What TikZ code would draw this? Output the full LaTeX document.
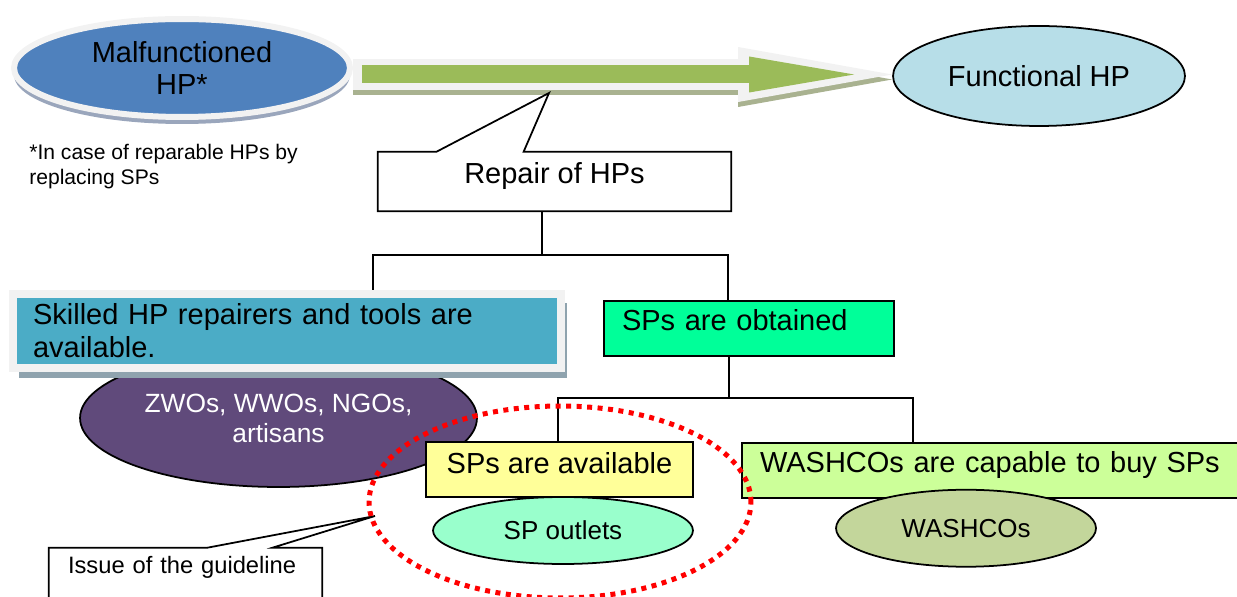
\documentclass[tikz,border=0pt]{standalone}
\usepackage{fontspec}
\setmainfont{Liberation Sans}
\usepackage{tikz}
\usetikzlibrary{
        arrows.meta,
        positioning,
        shadows,
        shapes.geometric
    }
\definecolor{hpblue}{HTML}{4F81BD}
\definecolor{hpgreen}{HTML}{9BBB59}
\definecolor{hpedge}{HTML}{F2F2F2}
\definecolor{hpshade}{HTML}{A9B290}
\definecolor{hpmist}{HTML}{9AA6BC}
\definecolor{hpsteel}{HTML}{8FA3AE}
\definecolor{hplight}{HTML}{B7DEE8}
\definecolor{hpteal}{HTML}{4BACC6}
\definecolor{hppurple}{HTML}{604A7B}
\definecolor{hpmint}{HTML}{00FF99}
\definecolor{hpyellow}{HTML}{FFFF99}
\definecolor{hpoutlet}{HTML}{99FFCC}
\definecolor{hplime}{HTML}{CCFF99}
\definecolor{hpolive}{HTML}{C3D69B}
\tikzset{
    big/.style={font=\fontsize{16.5}{18.7}\selectfont},
    mid/.style={font=\fontsize{14.8}{17}\selectfont},
    plainbox/.style={rectangle,draw,line width=1pt,inner sep=0pt,big},
    ellnode/.style={ellipse,draw,line width=1pt,inner sep=0pt,mid},
    callline/.style={line width=1pt},
    tree/.style={line width=0.9pt},
    arrshade/.style={draw=hpshade,line width=0.62cm,
        -{Triangle[length=3.08cm,width=1.1cm,line width=0pt]}},
    arrback/.style={draw=hpedge,line width=0.62cm,
        -{Triangle[length=3.08cm,width=1.1cm,line width=0pt]}},
    arrfront/.style={draw=hpgreen,line width=0.36cm,shorten >=0.76cm,shorten <=0.18cm,
        -{Triangle[length=2.1cm,width=0.72cm,line width=0pt]}}
}

\begin{document}
\begin{tikzpicture}[x=0.02cm,y=-0.02cm]
    \useasboundingbox (0,0) rectangle (1237,597);
    \clip (0,0) rectangle (1237,597);
    % top row
    \node[ellipse,fill=hpblue,draw=hpedge,line width=0.12cm,minimum width=6.72cm,minimum height=1.96cm,
          inner sep=0pt,align=center,big,
          drop shadow={shadow xshift=0cm,shadow yshift=-0.14cm,fill=hpmist,opacity=1}] (mal) at (182,68) {Malfunctioned\\HP*};
    \node[ellnode,fill=hplight,minimum width=5.84cm,minimum height=2cm,big] (fun) at (1039,76) {Functional HP};
    \coordinate (arrstart) at (mal.east |- 0,74.5);
    \coordinate (arrend) at (fun.west |- 0,74.5);
    \draw[arrshade] ([yshift=-0.1cm]arrstart) -- ([yshift=-0.1cm]arrend);
    \draw[arrback] (arrstart) -- (arrend);
    \draw[arrfront] (arrstart) -- (arrend);
    \node[align=left,inner sep=0pt,anchor=west,font=\fontsize{12}{14.2}\selectfont] (note) at (29,167)
        {*In case of reparable HPs by\\replacing SPs};

    % callout on the arrow
    \node[inner sep=0pt,minimum width=7.06cm,text height=0.63cm,text depth=0.55cm,big] (repair) at (554.5,181.5) {Repair of HPs};
    \coordinate (reptip) at (549,93);
    \draw[callline] (repair.south west) -- (repair.north west) -- ([xshift=1.18cm]repair.north west) -- (reptip)
        -- ([xshift=2.92cm]repair.north west) -- (repair.north east) -- (repair.south east) -- cycle;

    % left branch
    \node[ellnode,fill=hppurple,text=white,minimum width=7.94cm,minimum height=2.76cm,align=center,
          font=\fontsize{15}{17}\selectfont] (zwo) at (278.5,418) {ZWOs, WWOs, NGOs,\\artisans};
    \node[rectangle,fill=hpteal,draw=hpedge,line width=0.16cm,minimum width=10.97cm,minimum height=1.5cm,
          inner xsep=0.41cm,inner ysep=0pt,text width=10.15cm,align=left,big,
          drop shadow={shadow xshift=0.12cm,shadow yshift=-0.19cm,fill=hpsteel,opacity=1}] (skill) at (286.75,331)
        {Skilled HP repairers and tools are\\available.};

    % right branch
    \node[plainbox,fill=hpmint,minimum width=5.8cm,inner xsep=0.36cm,text width=5.08cm,align=left,
          text height=0.59cm,text depth=0.51cm] (obtained) at (749,328.5) {SPs are obtained};
    \node[ellnode,fill=hpoutlet,minimum width=5.2cm,minimum height=1.34cm] (outlets) at (563,530.5) {SP outlets};
    \node[plainbox,fill=hpyellow,minimum width=5.34cm,text height=0.63cm,text depth=0.47cm]
        (available) [above=-0.04cm of outlets,xshift=-0.07cm] {SPs are available};
    \node[plainbox,fill=hplime,minimum width=10.52cm,inner xsep=0.36cm,text width=9.8cm,align=left,
          text height=0.59cm,text depth=0.51cm] (washbox) at (1005,470.5)
        {WASHCOs are capable to buy SPs};
    \node[ellnode,fill=hpolive,minimum width=5.2cm,minimum height=1.54cm]
        (washcos) [below=-0.2cm of washbox,xshift=-0.78cm] {WASHCOs};

    % tree
    \coordinate (fork1) at (542,255);
    \coordinate (fork2) at (729,398);
    \draw[tree] (repair.south -| fork1) -- (fork1);
    \draw[tree] ([xshift=1.725cm]skill.north) |- (fork1) -| ([xshift=2.5cm]obtained.north west);
    \draw[tree] (obtained.south -| fork2) -- (fork2);
    \draw[tree] ([xshift=2.66cm]available.north west) |- (fork2) -| ([xshift=3.44cm]washbox.north west);

    % guideline callout
    \node[inner xsep=0.38cm,inner ysep=0pt,minimum width=5.46cm,text width=4.7cm,align=left,
          text height=0.51cm,text depth=0.69cm,font=\fontsize{13.5}{16}\selectfont] (issue) at (185.5,578) {Issue of the guideline};
    \coordinate (isstip) at (375,516);
    \draw[callline] (issue.south west) -- (issue.north west) -- ([xshift=3.18cm]issue.north west) -- (isstip)
        -- ([xshift=4.48cm]issue.north west) -- (issue.north east) -- (issue.south east);

    \node[ellipse,draw=red,line width=0.1cm,dash pattern=on 0.1cm off 0.11cm,minimum width=7.64cm,minimum height=3.84cm] (ring) at (560,502) {};
\end{tikzpicture}
\end{document}
